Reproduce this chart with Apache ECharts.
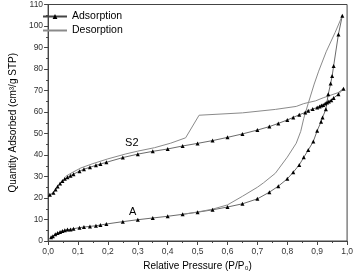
<!DOCTYPE html>
<html>
<head>
<meta charset="utf-8">
<script src="https://cdn.jsdelivr.net/npm/echarts@6/dist/echarts.min.js"></script>
<style>
  html, body { margin: 0; padding: 0; background: #fff; }
  #chart { width: 356px; height: 276px; }
</style>
</head>
<body>
<div id="chart"></div>
<script>
// S2 adsorption branch
const s2AdsP = [0.006, 0.018, 0.025, 0.032, 0.04, 0.048, 0.056, 0.065, 0.075, 0.085, 0.105, 0.12, 0.14, 0.16, 0.175, 0.195, 0.25, 0.3, 0.35, 0.4, 0.45, 0.5, 0.55, 0.6, 0.65, 0.7, 0.74, 0.77, 0.8, 0.82, 0.84, 0.86, 0.87, 0.885, 0.9, 0.908, 0.914, 0.92, 0.927, 0.933, 0.939, 0.947, 0.955, 0.971, 0.988]
const s2AdsV = [21.5, 22.5, 23.9, 25.4, 26.7, 27.9, 28.9, 29.6, 30.4, 31.1, 32.5, 33.4, 34.3, 35.2, 35.8, 36.6, 38.8, 40.4, 41.7, 42.8, 44.2, 45.4, 46.7, 48.2, 49.8, 51.6, 53.2, 54.7, 56.3, 57.5, 58.7, 59.8, 60.6, 61.4, 62.1, 62.6, 63.0, 63.3, 63.9, 64.4, 64.9, 65.5, 66.5, 68.3, 70.8]

// S2 desorption branch
const s2DesP = [0.988, 0.97, 0.92, 0.895, 0.855, 0.83, 0.76, 0.65, 0.505, 0.46, 0.41, 0.356, 0.3, 0.26, 0.2, 0.15, 0.11, 0.08, 0.058]
const s2DesV = [71.0, 69.0, 66.6, 65.2, 63.9, 62.6, 61.2, 59.6, 58.5, 48.0, 45.5, 43.4, 41.8, 40.5, 38.2, 36.0, 34.0, 31.8, 30.0]

// A adsorption branch
const aAdsP = [0.01, 0.016, 0.024, 0.032, 0.04, 0.048, 0.056, 0.065, 0.075, 0.085, 0.105, 0.12, 0.14, 0.16, 0.175, 0.195, 0.25, 0.3, 0.35, 0.4, 0.45, 0.5, 0.55, 0.6, 0.65, 0.7, 0.74, 0.77, 0.8, 0.82, 0.84, 0.855, 0.87, 0.887, 0.9, 0.913, 0.918, 0.929, 0.937, 0.945, 0.95, 0.955, 0.971, 0.984]
const aAdsV = [1.8, 2.2, 3.1, 3.7, 4.2, 4.6, 5.0, 5.3, 5.4, 5.7, 6.2, 6.5, 6.8, 7.1, 7.4, 7.9, 9.0, 9.9, 10.7, 11.5, 12.4, 13.4, 14.5, 15.8, 17.3, 19.6, 22.7, 25.5, 28.9, 32.0, 35.4, 38.9, 42.3, 46.3, 51.3, 55.5, 57.5, 61.3, 68.3, 73.2, 76.8, 81.4, 96.1, 104.8]

// A desorption branch
const aDesP = [0.984, 0.96, 0.93, 0.905, 0.89, 0.87, 0.855, 0.845, 0.83, 0.8, 0.76, 0.72, 0.7, 0.65, 0.6, 0.55, 0.5, 0.45]
const aDesV = [104.8, 97.0, 88.0, 79.0, 73.0, 64.0, 57.0, 51.0, 45.5, 39.0, 31.5, 27.0, 25.0, 20.8, 16.8, 14.8, 13.5, 12.4]

// sample labels
const sampleNames = ['S2', 'A']
const samplePos = [[0.28, 45.5], [0.283, 13.5]]

const pair = (xs, ys) => xs.map((x, i) => [x, ys[i]])

const axisColor = '#444'
const chart = echarts.init(document.getElementById('chart'))

const adsStyle = {
  type: 'line',
  name: 'Adsorption',
  symbol: 'triangle',
  symbolSize: 4,
  showSymbol: true,
  itemStyle: { color: '#000' },
  lineStyle: { color: '#444', width: 0.8 },
  animation: false
}
const desStyle = {
  type: 'line',
  name: 'Desorption',
  symbol: 'circle',
  symbolSize: 0,
  showSymbol: false,
  itemStyle: { color: '#8a8a8a' },
  lineStyle: { color: '#8a8a8a', width: 1 },
  animation: false
}

// invisible anchor holding the sample label
const sampleLabel = (i) => ({
  symbol: 'rect',
  symbolSize: 1,
  itemStyle: { color: 'rgba(0,0,0,0)' },
  label: {
    show: true, position: 'inside', formatter: '{b}',
    fontFamily: 'Liberation Sans', fontSize: 11, color: '#000'
  },
  data: [{ name: sampleNames[i], coord: samplePos[i] }]
})

chart.setOption({
  backgroundColor: '#fff',
  grid: {
    left: 35, right: 7, top: 3, bottom: 35,
    show: true, borderColor: axisColor, borderWidth: 1
  },
  legend: {
    orient: 'vertical',
    left: 37, top: 6,
    padding: [5, 5, 5, 5],
    itemWidth: 24, itemHeight: 6, itemGap: 3,
    textStyle: { fontFamily: 'Liberation Sans', fontSize: 10.5, color: '#000' },
    data: ['Adsorption', { name: 'Desorption', itemStyle: { opacity: 0 } }]
  },
  xAxis: {
    type: 'value', min: 0, max: 1, interval: 0.1,
    name: 'Relative Pressure (P/P₀)',
    nameLocation: 'middle', nameGap: 19,
    nameTextStyle: { fontFamily: 'Liberation Sans', fontSize: 10, color: '#000' },
    axisLine: { lineStyle: { color: axisColor } },
    axisTick: { inside: false, length: 4, lineStyle: { color: axisColor } },
    minorTick: { show: true, splitNumber: 2, length: 2, lineStyle: { color: axisColor } },
    splitLine: { show: false },
    axisLabel: {
      fontFamily: 'Liberation Sans', fontSize: 8.5, color: '#333', margin: 6,
      formatter: v => v.toFixed(1).replace('.', ',')
    }
  },
  yAxis: {
    type: 'value', min: 0, max: 110, interval: 10,
    name: 'Quantity Adsorbed (cm³/g STP)',
    nameLocation: 'middle', nameGap: 27,
    nameTextStyle: { fontFamily: 'Liberation Sans', fontSize: 10, color: '#000' },
    axisLine: { show: true, lineStyle: { color: axisColor } },
    axisTick: { show: true, inside: false, length: 4, lineStyle: { color: axisColor } },
    minorTick: { show: true, splitNumber: 2, length: 2, lineStyle: { color: axisColor } },
    splitLine: { show: false },
    axisLabel: { fontFamily: 'Liberation Sans', fontSize: 8.5, color: '#333', margin: 5 }
  },
  series: [
    Object.assign({}, adsStyle, { data: pair(s2AdsP, s2AdsV), markPoint: sampleLabel(0) }),
    Object.assign({}, desStyle, { data: pair(s2DesP, s2DesV) }),
    Object.assign({}, adsStyle, { data: pair(aAdsP, aAdsV), markPoint: sampleLabel(1) }),
    Object.assign({}, desStyle, { data: pair(aDesP, aDesV) })
  ]
})
</script>
</body>
</html>
